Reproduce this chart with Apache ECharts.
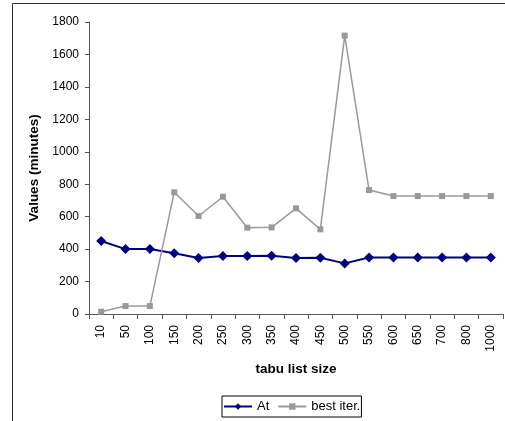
<!DOCTYPE html>
<html>
<head>
<meta charset="utf-8">
<script src="https://cdn.jsdelivr.net/npm/echarts@6/dist/echarts.min.js"></script>
<style>
html,body{margin:0;padding:0;background:#fff;}
#c{width:505px;height:421px;}
</style>
</head>
<body>
<div id="c"></div>
<script>
var categories = ['10','50','100','150','200','250','300','350','400','450','500','550','600','650','700','800','1000'];
var atValues = [450,400,400,375,345,357,357,359,345,347,312,348,348,348,348,348,348];
var bestIterValues = [14,49,49,750,604,723,532,534,651,522,1716,764,727,727,727,727,727];
var yTicks = {min:0, max:1800, interval:200};

var chart = echarts.init(document.getElementById('c'));
var font = 'Liberation Sans, Arial, sans-serif';
chart.setOption({
  animation:false,
  backgroundColor:'#fff',
  graphic:[
    {type:'line', shape:{x1:12.5,y1:3.5,x2:505,y2:3.5}, style:{stroke:'#333',lineWidth:1}},
    {type:'line', shape:{x1:12.5,y1:3.5,x2:12.5,y2:421}, style:{stroke:'#333',lineWidth:1}}
  ],
  grid:{left:89, top:22, right:2, bottom:107, containLabel:false},
  legend:{
    left:222, top:396,
    padding:[4,1,4,1],
    borderColor:'#000', borderWidth:1,
    itemWidth:28, itemHeight:8, itemGap:8,
    textStyle:{fontFamily:font, fontSize:13, color:'#000'},
    data:['At','best iter.']
  },
  xAxis:{
    type:'category',
    data:categories,
    boundaryGap:true,
    name:'tabu list size',
    nameLocation:'middle',
    nameGap:48,
    nameTextStyle:{fontFamily:font, fontSize:13.5, fontWeight:'bold', color:'#000'},
    axisLine:{lineStyle:{color:'#555', width:1}},
    axisTick:{show:true, length:5, lineStyle:{color:'#555'}},
    axisLabel:{rotate:90, interval:0, fontFamily:font, fontSize:12, color:'#000', margin:11}
  },
  yAxis:{
    type:'value',
    min:yTicks.min, max:yTicks.max, interval:yTicks.interval,
    name:'Values (minutes)',
    nameLocation:'middle',
    nameGap:45,
    nameTextStyle:{fontFamily:font, fontSize:13.5, fontWeight:'bold', color:'#000'},
    axisLine:{show:true, lineStyle:{color:'#555', width:1}},
    axisTick:{show:true, length:4, lineStyle:{color:'#555'}},
    splitLine:{show:false},
    axisLabel:{fontFamily:font, fontSize:12, color:'#000', margin:10, formatter:function(v){return String(v);}}
  },
  series:[
    {
      name:'At', type:'line', data:atValues,
      symbol:'diamond', symbolSize:10,
      lineStyle:{color:'#000080', width:2},
      itemStyle:{color:'#000080'}
    },
    {
      name:'best iter.', type:'line', data:bestIterValues,
      symbol:'rect', symbolSize:6,
      lineStyle:{color:'#9a9a9a', width:1.5},
      itemStyle:{color:'#999999'}
    }
  ]
});
</script>
</body>
</html>
